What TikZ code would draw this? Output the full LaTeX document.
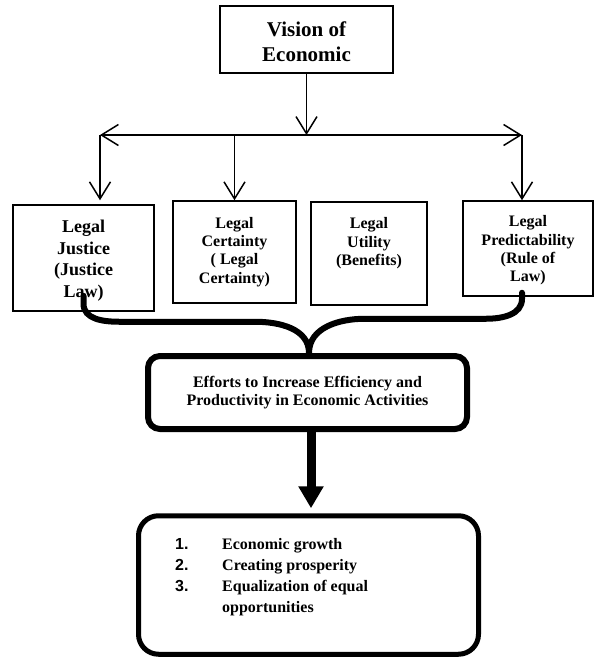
\documentclass[tikz,border=0pt]{standalone}
\usepackage{fontspec}
\setmainfont{Liberation Serif}
\newfontfamily\numfont{Liberation Sans}
\usetikzlibrary{arrows.meta}
\begin{document}
\begin{tikzpicture}[x=1pt,y=-1pt,
  box/.style={draw, line width=1.5pt, align=center, inner sep=0pt, font=\bfseries\fontsize{16}{18.3}\selectfont},
  barb/.tip={Straight Barb[length=17pt,width=21pt]},
  thin arrow/.style={line width=1.5pt, -barb},
  brace line/.style={line width=6pt, line cap=round},
  big arrow/.style={line width=9pt, -{Triangle[length=22pt,width=24pt]}},
]
\useasboundingbox (0,0) rectangle (594,657);
% top box
\node[box, minimum width=173pt, minimum height=67pt, font=\bfseries\fontsize{21}{25}\selectfont] (vision) at (306.5,39.5) {\rule{0pt}{20pt}Vision of\\Economic};
% four boxes
\node[box, minimum width=141pt, minimum height=106pt, font=\bfseries\fontsize{18}{21.5}\selectfont] (b1) at (83.5,258) {\rule{0pt}{18pt}Legal\\Justice\\(Justice\\Law)};
\node[box, minimum width=123pt, minimum height=102pt] (b2) at (234.5,252) {Legal\\Certainty\\( Legal\\Certainty)};
\node[box, minimum width=116pt, minimum height=103pt] (b3) at (369,253.5) {Legal\\Utility\\(Benefits)\\\strut};
\node[box, minimum width=130pt, minimum height=95pt] (b4) at (528,248.5) {\rule{0pt}{15pt}Legal\\Predictability\\(Rule of\\Law)};
% bus
\coordinate (j1) at (100,135);
\coordinate (j4) at (522,135);
\draw[thin arrow] (vision.south) -- (vision.south |- j1);
\draw[line width=1.5pt, barb-barb] (j1) -- (j4);
\draw[thin arrow, shorten >=4pt] (j1) -- (j1 |- b1.north);
\draw[thin arrow] (b2.north |- j1) -- (b2.north);
\draw[thin arrow] (j4) -- (j4 |- b4.north);
% efforts box
\node[box, line width=6pt, rounded corners=12pt, minimum width=319pt, minimum height=73pt] (eff) at (307.5,392.5) {Efforts to Increase Efficiency and\\Productivity in Economic Activities};
% brace connectors
\draw[brace line] ([yshift=16pt]b1.south) -- ++(0,8) to[out=-90,in=180] ++(36,18) -- (255,321.75) to[out=0,in=90] ([xshift=1.5pt]eff.north);
\draw[brace line] ([xshift=-6pt,yshift=4pt]b4.south) -- ++(0,6) to[out=-90,in=0] ++(-36,20) -- (365,318.75) to[out=180,in=90] ([xshift=1.5pt]eff.north);
% result box
\node[draw, line width=5pt, rounded corners=20pt, minimum width=340pt, minimum height=138.5pt] (res) at (308.5,585) {};
\draw[big arrow, shorten >=5pt] ([xshift=3.5pt]eff.south) -- ([xshift=3.5pt]eff.south |- res.north);
\node[anchor=north west, inner sep=0pt, align=left, font=\bfseries\fontsize{16}{21}\selectfont] (items) at (175,538.5) {\makebox[47pt][l]{\numfont 1.}Economic growth\\\makebox[47pt][l]{\numfont 2.}Creating prosperity\\\makebox[47pt][l]{\numfont 3.}Equalization of equal\\\hspace*{47pt}opportunities};
\end{tikzpicture}
\end{document}
